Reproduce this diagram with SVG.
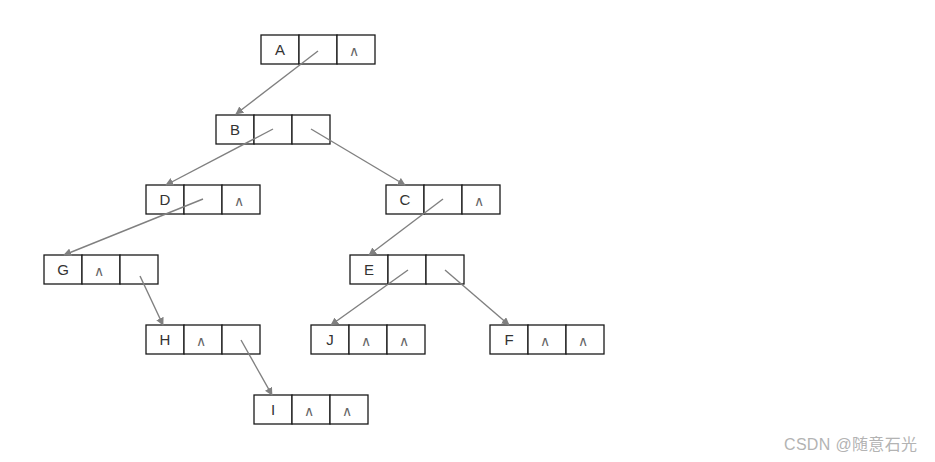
<svg xmlns="http://www.w3.org/2000/svg" width="935" height="462" viewBox="0 0 935 462">
<defs>
<style>
.cell{fill:#fff;stroke:#1a1a1a;stroke-width:1.3}
.lbl{font-family:"Liberation Sans",Arial,sans-serif;font-size:15px;fill:#333;text-anchor:middle}
.nil{font-family:"DejaVu Sans",sans-serif;font-size:14px;fill:#666;text-anchor:middle}
.edge{stroke:#808080;stroke-width:1.4;fill:none;marker-end:url(#ah)}
.wm{font-family:"Liberation Sans","Noto Sans CJK SC",sans-serif;font-size:16px;fill:#b3b3b3}
</style>
<marker id="ah" viewBox="0 0 10 10" refX="9" refY="5" markerWidth="8" markerHeight="8" markerUnits="userSpaceOnUse" orient="auto">
<path d="M0,0 L10,5 L0,10 z" fill="#808080"/>
</marker>
<g id="node3">
<rect class="cell" x="0" y="0" width="38" height="29"/>
<rect class="cell" x="38" y="0" width="38" height="29"/>
<rect class="cell" x="76" y="0" width="38" height="29"/>
</g>
</defs>
<rect width="935" height="462" fill="#fff"/>

<g id="A" transform="translate(261,35)"><use href="#node3"/><text class="lbl" x="19" y="20">A</text><text class="nil" x="93" y="21">∧</text></g>
<g id="B" transform="translate(216,115)"><use href="#node3"/><text class="lbl" x="19" y="20">B</text></g>
<g id="D" transform="translate(146,185)"><use href="#node3"/><text class="lbl" x="19" y="20">D</text><text class="nil" x="93" y="21">∧</text></g>
<g id="C" transform="translate(386,185)"><use href="#node3"/><text class="lbl" x="19" y="20">C</text><text class="nil" x="93" y="21">∧</text></g>
<g id="G" transform="translate(44,255)"><use href="#node3"/><text class="lbl" x="19" y="20">G</text><text class="nil" x="55" y="21">∧</text></g>
<g id="E" transform="translate(350,255)"><use href="#node3"/><text class="lbl" x="19" y="20">E</text></g>
<g id="H" transform="translate(146,325)"><use href="#node3"/><text class="lbl" x="19" y="20">H</text><text class="nil" x="55" y="21">∧</text></g>
<g id="J" transform="translate(311,325)"><use href="#node3"/><text class="lbl" x="19" y="20">J</text><text class="nil" x="55" y="21">∧</text><text class="nil" x="93" y="21">∧</text></g>
<g id="F" transform="translate(490,325)"><use href="#node3"/><text class="lbl" x="19" y="20">F</text><text class="nil" x="55" y="21">∧</text><text class="nil" x="93" y="21">∧</text></g>
<g id="I" transform="translate(254,395)"><use href="#node3"/><text class="lbl" x="19" y="20">I</text><text class="nil" x="55" y="21">∧</text><text class="nil" x="93" y="21">∧</text></g>

<g id="connectors">
<line class="edge" x1="318" y1="51" x2="236" y2="114"/>
<line class="edge" x1="273" y1="129" x2="166" y2="185"/>
<line class="edge" x1="311" y1="129" x2="405" y2="185"/>
<line class="edge" x1="203" y1="199" x2="64" y2="255"/>
<line class="edge" x1="443" y1="199" x2="369" y2="255"/>
<line class="edge" x1="140" y1="276" x2="163" y2="325"/>
<line class="edge" x1="408" y1="270" x2="331" y2="325"/>
<line class="edge" x1="445" y1="270" x2="509" y2="325"/>
<line class="edge" x1="241" y1="340" x2="272" y2="395"/>
</g>

<text class="wm" x="784" y="450" textLength="133" lengthAdjust="spacing">CSDN @随意石光</text>
</svg>
